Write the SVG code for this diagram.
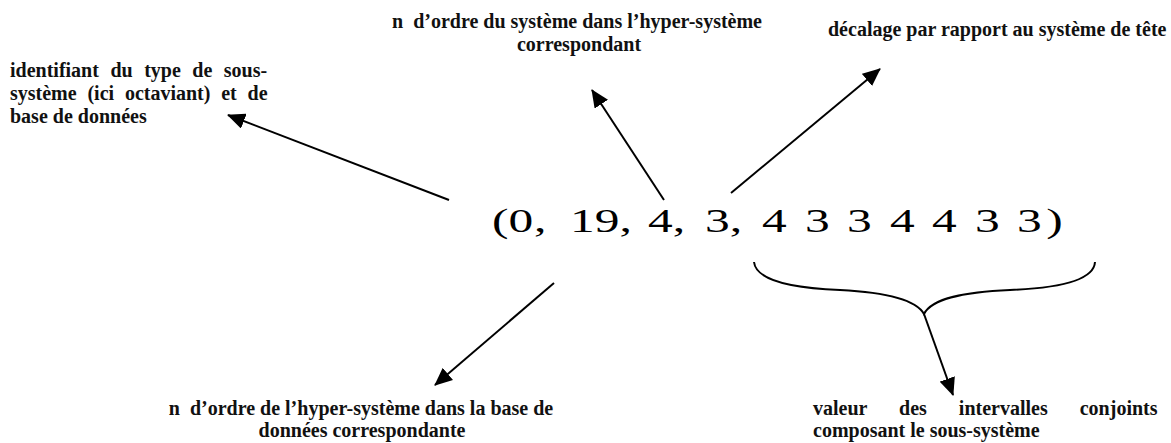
<svg xmlns="http://www.w3.org/2000/svg" width="1171" height="443" viewBox="0 0 1171 443">
<defs>
<style>
.lbl{font-family:"Liberation Serif","Times New Roman",serif;font-size:20px;font-weight:bold;fill:#111;}
.tup{font-family:"Liberation Serif","Times New Roman",serif;font-size:33px;fill:#000;}
.con{stroke:#000;stroke-width:2;fill:none;}
</style>
<marker id="ah" markerUnits="userSpaceOnUse" markerWidth="18" markerHeight="16" refX="17" refY="8" orient="auto" viewBox="0 0 18 16">
<path d="M0,0 L18,8 L0,16 Z" fill="#000"/>
</marker>
</defs>
<rect width="1171" height="443" fill="#fff"/>
<g id="tuple">
<g transform="scale(1.5,1)">
<text class="tup" y="232"><tspan x="328">(0</tspan><tspan x="356">,</tspan><tspan x="380">19,</tspan><tspan x="432">4,</tspan><tspan x="470">3,</tspan><tspan x="508">4</tspan><tspan x="536.7">3</tspan><tspan x="564.7">3</tspan><tspan x="593.3">4</tspan><tspan x="621.3">4</tspan><tspan x="650">3</tspan><tspan x="678">3</tspan><tspan x="697.5">)</tspan></text>
</g>
</g>
<g id="label-type">
<text class="lbl" x="10" y="77" word-spacing="6.5">identifiant du type de sous-</text>
<text class="lbl" x="10" y="100" word-spacing="5.8">système (ici octaviant) et de</text>
<text class="lbl" x="10" y="123">base de données</text>
</g>
<g id="label-ordre-systeme">
<text class="lbl" x="577" y="28" text-anchor="middle">n<tspan dx="10">d’ordre du système dans l’hyper-système</tspan></text>
<text class="lbl" x="579" y="51" text-anchor="middle">correspondant</text>
</g>
<g id="label-decalage">
<text class="lbl" x="828" y="36">décalage par rapport au système de tête</text>
</g>
<g id="label-ordre-hyper">
<text class="lbl" x="361" y="415" text-anchor="middle">n<tspan dx="10">d’ordre de l’hyper-système dans la base de</tspan></text>
<text class="lbl" x="362" y="437" text-anchor="middle">données correspondante</text>
</g>
<g id="label-intervalles">
<text class="lbl" x="813" y="415" word-spacing="27">valeur des intervalles conjoints</text>
<text class="lbl" x="813" y="437">composant le sous-système</text>
</g>
<g id="connectors">
<line class="con" x1="449" y1="200" x2="228" y2="115" marker-end="url(#ah)"/>
<line class="con" x1="664" y1="200" x2="592" y2="90" marker-end="url(#ah)"/>
<line class="con" x1="731" y1="193" x2="880" y2="69" marker-end="url(#ah)"/>
<line class="con" x1="554" y1="283" x2="435" y2="385" marker-end="url(#ah)"/>
<path class="con" d="M754,262 C756,280 790,288 840,290 C880,292 915,298 924,314 C932,298 965,292 1010,290 C1060,288 1094,280 1095,262"/>
<line class="con" x1="924" y1="314" x2="953" y2="395" marker-end="url(#ah)"/>
</g>
</svg>
